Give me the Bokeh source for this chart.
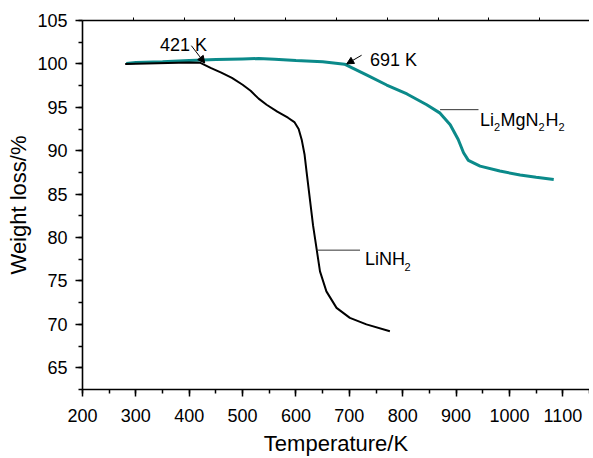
from bokeh.plotting import figure
from bokeh.models import (Range1d, LinearAxis, SingleIntervalTicker, FixedTicker,
                          CustomJSTickFormatter, Label, Arrow, NormalHead)
from bokeh.embed import file_html
from bokeh.resources import INLINE

# ---- data ----
linh2_T = [280, 320, 360, 400, 421, 440, 460, 480, 500, 515, 530, 545, 565, 585, 597,
           605, 611, 616, 620, 626, 632, 639, 645, 657, 676, 701, 732, 776]
linh2_W = [100.0, 100.05, 100.1, 100.15, 100.12, 99.55, 99.0, 98.4, 97.6, 96.9, 96.0,
           95.3, 94.5, 93.8, 93.3, 92.5, 91.2, 89.6, 87.5, 84.45, 81.4, 78.55, 76.1,
           73.8, 71.9, 70.75, 70.0, 69.2]

limg_T = [282, 300, 350, 400, 450, 500, 530, 560, 600, 650, 691, 710, 733, 770, 808,
          845, 870, 889, 904, 914, 923, 945, 982, 1020, 1050, 1083]
limg_W = [100.05, 100.15, 100.25, 100.38, 100.5, 100.58, 100.62, 100.55, 100.4, 100.25,
          99.97, 99.4, 98.7, 97.57, 96.54, 95.29, 94.33, 93.0, 91.29, 89.77, 88.89,
          88.23, 87.66, 87.2, 86.95, 86.68]

onset_labels = ["421 K", "691 K"]

FONT = "Liberation Sans"
TEAL = "#0b8a8a"

p = figure(width=589, height=458, output_backend="svg", toolbar_location=None,
           x_range=Range1d(200, 1150), y_range=Range1d(62.5, 105),
           min_border_left=82, min_border_right=0, min_border_top=20,
           min_border_bottom=66, x_axis_label="Temperature/K",
           y_axis_label="Weight loss/%")
p.xgrid.visible = False
p.ygrid.visible = False
p.outline_line_color = None
p.background_fill_color = "white"

p.xaxis.ticker = SingleIntervalTicker(interval=100, num_minor_ticks=2)
p.yaxis.ticker = SingleIntervalTicker(interval=5, num_minor_ticks=2)

for ax in (p.xaxis[0], p.yaxis[0]):
    ax.axis_line_width = 1.6
    ax.axis_line_color = "black"
    ax.major_tick_line_width = 1.5
    ax.minor_tick_line_width = 1.5
    ax.major_tick_line_color = "black"
    ax.minor_tick_line_color = "black"
    ax.major_tick_in = 0
    ax.minor_tick_in = 0
    ax.major_tick_out = 7
    ax.minor_tick_out = 4
    ax.major_label_text_font = FONT
    ax.major_label_text_font_size = "18px"
    ax.major_label_text_color = "black"
    ax.axis_label_text_font = FONT
    ax.axis_label_text_font_size = "22px"
    ax.axis_label_text_font_style = "normal"
    ax.axis_label_text_color = "black"

p.xaxis.major_label_standoff = 12
p.xaxis.axis_label_standoff = 6
p.yaxis.major_label_standoff = 8
p.yaxis.axis_label_standoff = 3

# top frame line with small outward ticks
p.extra_x_ranges = {"top": Range1d(0, 9.98)}
top = LinearAxis(x_range_name="top", ticker=FixedTicker(ticks=[1, 2, 3, 4, 5, 6, 7, 8, 9]),
                 formatter=CustomJSTickFormatter(code="return ''"))
top.axis_line_width = 1.6
top.major_tick_in = 0
top.major_tick_out = 3
top.minor_tick_out = 0
top.major_label_standoff = 0
top.major_label_text_font_size = "1px"
p.add_layout(top, "above")

# curves
p.line(limg_T, limg_W, line_color=TEAL, line_width=3)
p.line(linh2_T, linh2_W, line_color="black", line_width=2)

# onset annotations
for lx, ly, txt in ((345, 102.14, onset_labels[0]), (738.7, 100.43, onset_labels[1])):
    p.add_layout(Label(x=lx, y=ly, text=txt, text_font=FONT, text_color="black",
                       text_font_size="18px", text_baseline="alphabetic",
                       text_align="left"))
p.add_layout(Arrow(end=NormalHead(size=7, fill_color="black", line_color="black"),
                   x_start=404, y_start=102.1, x_end=429, y_end=100.1,
                   line_color="black", line_width=1))
p.add_layout(Arrow(end=NormalHead(size=7, fill_color="black", line_color="black"),
                   x_start=723, y_start=101.0, x_end=695, y_end=100.0,
                   line_color="black", line_width=1))

# leader lines to curve names
p.segment(x0=[870, 639], y0=[94.73, 78.55], x1=[942, 720], y1=[94.73, 78.55],
          line_color="#333333", line_width=1)


def chem(x, y, pieces, main_size=18, sub_size=11, sub_drop=0.85):
    for txt, off, is_sub in pieces:
        p.add_layout(Label(x=x, y=(y - sub_drop) if is_sub else y, x_offset=off,
                           text=txt, text_font=FONT, text_color="black",
                           text_font_size=f"{sub_size if is_sub else main_size}px",
                           text_baseline="alphabetic", text_align="left"))


chem(945, 93.57, [("Li", 0, False), ("2", 14, True), ("MgN", 20.5, False),
                  ("2", 58.5, True), ("H", 65.5, False), ("2", 78.5, True)])
chem(729.3, 77.49, [("LiNH", 0, False), ("2", 39.5, True)])

html = file_html(p, INLINE)
open("out.html", "w").write(html)
